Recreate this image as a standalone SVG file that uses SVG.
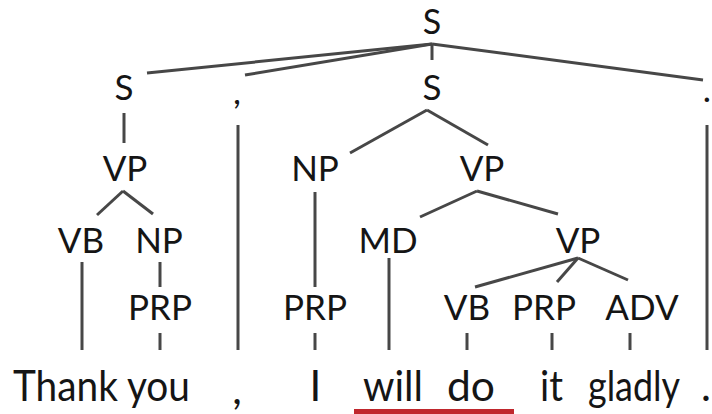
<svg xmlns="http://www.w3.org/2000/svg" width="712" height="414" viewBox="0 0 712 414">
<style>
text{font-family:Lato,"Noto Sans","Liberation Sans",sans-serif;fill:#151515;text-anchor:middle}
.l{font-size:35px}
.w{font-size:42px}
#edges line{stroke:#474747;stroke-width:3;stroke-linecap:butt}
</style>
<rect width="712" height="414" fill="#fff"/>
<g id="edges">
<line x1="432" y1="44" x2="147" y2="73"/>
<line x1="432" y1="44" x2="245" y2="75"/>
<line x1="432" y1="44" x2="432" y2="60"/>
<line x1="432" y1="44" x2="703" y2="80"/>
<line x1="124" y1="113" x2="124" y2="143"/>
<line x1="123" y1="191" x2="97" y2="215"/>
<line x1="123" y1="191" x2="153" y2="214"/>
<line x1="82" y1="262" x2="82" y2="350"/>
<line x1="160" y1="262" x2="160" y2="287"/>
<line x1="160" y1="333" x2="160" y2="350"/>
<line x1="238" y1="125" x2="238" y2="350"/>
<line x1="427" y1="110" x2="350" y2="153"/>
<line x1="427" y1="110" x2="488" y2="145"/>
<line x1="315" y1="192" x2="315" y2="287"/>
<line x1="315" y1="333" x2="315" y2="350"/>
<line x1="477" y1="191" x2="420" y2="217"/>
<line x1="477" y1="191" x2="558" y2="214"/>
<line x1="389" y1="258" x2="389" y2="350"/>
<line x1="578" y1="258" x2="475" y2="287"/>
<line x1="578" y1="258" x2="557" y2="282"/>
<line x1="578" y1="258" x2="628" y2="280"/>
<line x1="467" y1="333" x2="467" y2="350"/>
<line x1="552" y1="333" x2="552" y2="350"/>
<line x1="630" y1="333" x2="630" y2="350"/>
<line x1="707" y1="125" x2="707" y2="350"/>
</g>
<g id="S_root"><text class="l" x="432" y="34" style="font-size:34px">S</text></g>
<g id="S_left"><text class="l" x="124" y="100">S</text></g>
<g id="comma_tag"><text class="l" x="237" y="104">,</text></g>
<g id="S_mid"><text class="l" x="432" y="100">S</text></g>
<g id="period_tag"><text class="l" x="707" y="102">.</text></g>
<g id="VP_left"><text class="l" x="125" y="181">VP</text></g>
<g id="NP_mid"><text class="l" x="315" y="181">NP</text></g>
<g id="VP_mid"><text class="l" x="482" y="181">VP</text></g>
<g id="VB_left"><text class="l" x="81" y="253">VB</text></g>
<g id="NP_left"><text class="l" x="159" y="253">NP</text></g>
<g id="MD"><text class="l" x="388" y="253">MD</text></g>
<g id="VP_right"><text class="l" x="578" y="253">VP</text></g>
<g id="PRP_left"><text class="l" x="160" y="320">PRP</text></g>
<g id="PRP_mid"><text class="l" x="315" y="320">PRP</text></g>
<g id="VB_right"><text class="l" x="467" y="320">VB</text></g>
<g id="PRP_right"><text class="l" x="544" y="320">PRP</text></g>
<g id="ADV"><text class="l" x="642" y="320">ADV</text></g>
<g id="w_thankyou"><text class="w" x="101.5" y="401" textLength="177" lengthAdjust="spacingAndGlyphs">Thank you</text></g>
<g id="w_comma"><text class="w" x="237" y="404">,</text></g>
<g id="w_I"><text class="w" x="315.5" y="401">I</text></g>
<g id="w_will"><text class="w" x="393" y="401" textLength="60" lengthAdjust="spacingAndGlyphs">will</text></g>
<g id="w_do"><text class="w" x="471" y="401" textLength="48" lengthAdjust="spacingAndGlyphs">do</text></g>
<g id="w_it"><text class="w" x="551.5" y="401" textLength="23" lengthAdjust="spacingAndGlyphs">it</text></g>
<g id="w_gladly"><text class="w" x="634" y="401" textLength="92" lengthAdjust="spacingAndGlyphs">gladly</text></g>
<g id="w_period"><text class="w" x="706" y="401">.</text></g>
<rect id="underline" x="354" y="409" width="160" height="5" fill="#c0272d"/>
</svg>
